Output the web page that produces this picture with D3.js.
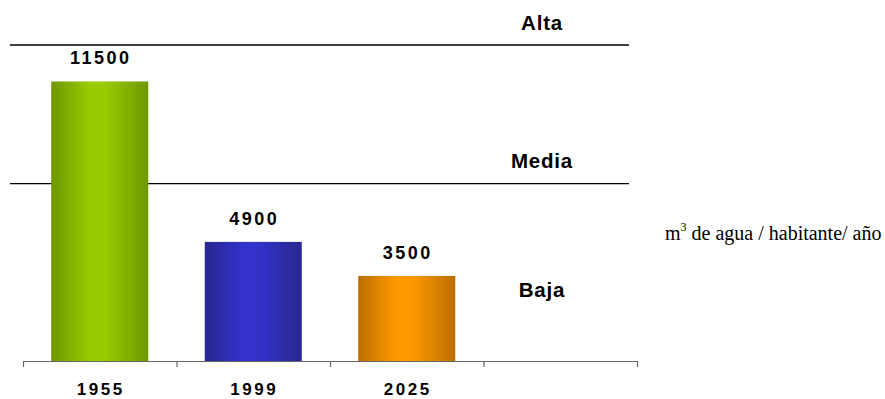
<!DOCTYPE html>
<html><head><meta charset="utf-8">
<script src="https://cdn.jsdelivr.net/npm/d3@7"></script>
<style>html,body{margin:0;padding:0;background:#fff;}svg{display:block;}</style>
</head><body>
<script>
const categories = ["1955", "1999", "2025", ""];
const values = [11500, 4900, 3500, null];
const valueLabels = ["11500", "4900", "3500", ""];
const thresholds = [13000, 7300];
const zoneLabels = ["Alta", "Media", "Baja"];
const unitLabel = ["m", "3", " de agua / habitante/ año"];
const colors = [
  {edge: "#6e9600", mid: "#99cc00"},
  {edge: "#27278f", mid: "#3333cc"},
  {edge: "#bb6f00", mid: "#ff9900"}
];

const W = 885, H = 399;
const svg = d3.select("body").append("svg").attr("width", W).attr("height", H);
const defs = svg.append("defs");
colors.forEach((c, i) => {
  const g = defs.append("linearGradient").attr("id", "g" + i)
    .attr("x1", "0%").attr("x2", "100%").attr("y1", "0%").attr("y2", "0%");
  g.append("stop").attr("offset", "0%").attr("stop-color", c.edge);
  g.append("stop").attr("offset", "40%").attr("stop-color", c.mid);
  g.append("stop").attr("offset", "55%").attr("stop-color", c.mid);
  g.append("stop").attr("offset", "100%").attr("stop-color", c.edge);
});

const x0 = 23, x1 = 637, yBase = 361, yTop = 45;
const x = d3.scaleBand().domain(categories).range([x0, x1]).paddingInner(0.368).paddingOuter(0.184);
const y = d3.scaleLinear().domain([0, 13000]).range([yBase, yTop]);
const xt = d3.scaleLinear().domain([0, categories.length]).range([x0, x1]);

// threshold lines
svg.selectAll("line.th").data(thresholds).enter().append("line")
  .attr("x1", 10).attr("x2", 629)
  .attr("y1", d => y(d)).attr("y2", d => y(d))
  .attr("stroke", "#000").attr("stroke-width", 1.3);

// bars
const data = categories.map((c, i) => ({c, v: values[i], l: valueLabels[i], i})).filter(d => d.v != null);
svg.selectAll("rect.bar").data(data).enter().append("rect")
  .attr("x", d => x(d.c)).attr("width", x.bandwidth())
  .attr("y", d => y(d.v)).attr("height", d => yBase - y(d.v))
  .attr("fill", d => `url(#g${d.i})`);

// value labels
svg.selectAll("text.val").data(data).enter().append("text")
  .attr("x", d => x(d.c) + x.bandwidth() / 2 + 1)
  .attr("y", d => y(d.v) - 17)
  .attr("text-anchor", "middle")
  .attr("font-family", "Liberation Sans, Arial, sans-serif")
  .attr("font-weight", "bold").attr("font-size", 18).attr("letter-spacing", 2.5)
  .text(d => d.l);

// x axis
const axis = d3.axisBottom(xt).ticks(categories.length).tickFormat("").tickSizeInner(6).tickSizeOuter(0);
const ax = svg.append("g").attr("transform", `translate(0,${yBase})`).call(axis);
ax.select(".domain").attr("stroke", "#666").attr("stroke-width", 1.2);
ax.selectAll(".tick line").attr("stroke", "#666").attr("stroke-width", 1.2);

svg.selectAll("text.cat").data(categories).enter().append("text")
  .attr("x", d => x(d) + x.bandwidth() / 2 + 1)
  .attr("y", 395)
  .attr("text-anchor", "middle")
  .attr("font-family", "Liberation Sans, Arial, sans-serif")
  .attr("font-weight", "bold").attr("font-size", 17).attr("letter-spacing", 2.5)
  .text(d => d);

// zone labels
const zoneY = [y(thresholds[0]) - 15, y(thresholds[1]) - 16, 297];
svg.selectAll("text.zone").data(zoneLabels).enter().append("text")
  .attr("x", 542).attr("y", (d, i) => zoneY[i])
  .attr("text-anchor", "middle")
  .attr("font-family", "Liberation Sans, Arial, sans-serif")
  .attr("font-weight", "bold").attr("font-size", 20.5).attr("letter-spacing", 0.8)
  .text(d => d);

// unit label
const ut = svg.append("text").attr("x", 665).attr("y", 239.5)
  .attr("font-family", "Liberation Serif, Times New Roman, serif")
  .attr("font-size", 20).attr("fill", "#000");
ut.append("tspan").text(unitLabel[0]);
ut.append("tspan").attr("dy", -9).attr("font-size", 12).text(unitLabel[1]);
ut.append("tspan").attr("dy", 9).text(unitLabel[2]);
</script>
</body></html>
